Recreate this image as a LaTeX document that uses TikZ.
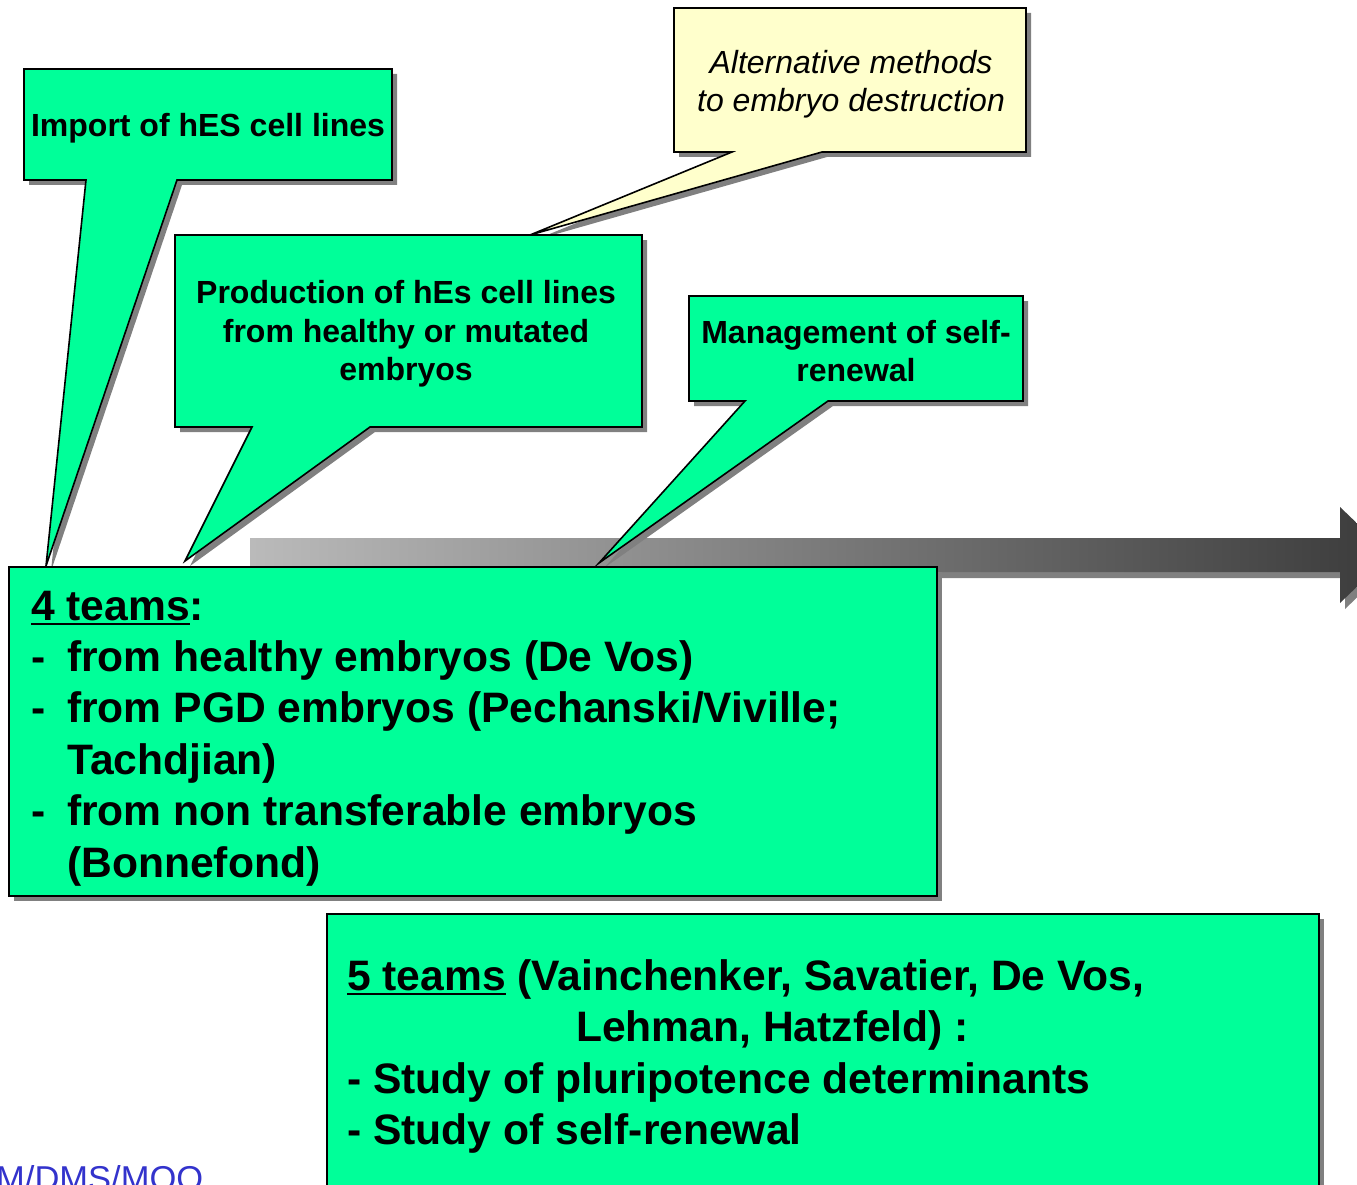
\documentclass[tikz,border=0pt]{standalone}
\usepackage{fontspec}
\setmainfont{Liberation Sans}
\usetikzlibrary{shadows}
\definecolor{sgreen}{HTML}{00FF99}
\definecolor{syellow}{HTML}{FFFFCC}
\definecolor{shad}{HTML}{808080}
\definecolor{sblue}{HTML}{3333CC}
\newcommand\myul[1]{\setbox0\hbox{#1}\rlap{\rule[-5pt]{\wd0}{2.5pt}}\box0\relax}
\tikzset{
  cshadow/.style={drop shadow={shadow xshift=5pt, shadow yshift=-5pt, fill=shad, opacity=1}},
  callout/.style={fill=sgreen, draw=black, line width=1.6pt, line join=miter, cshadow},
  ycallout/.style={fill=syellow, draw=black, line width=1.6pt, line join=miter, cshadow},
  ctext/.style={align=center, inner sep=0pt, font=\bfseries\fontsize{32}{38.4}\selectfont},
  itext/.style={align=center, inner sep=0pt, font=\itshape\fontsize{32}{38.4}\selectfont},
  bigtext/.style={anchor=base west, inner sep=0pt, font=\bfseries\fontsize{42.6}{51}\selectfont},
}
\begin{document}
\begin{tikzpicture}[x=1pt,y=-1pt]
\useasboundingbox (0,0) rectangle (1357,1185);

% timeline arrow
\fill[shad] (254,544) -- (1345,544) -- (1345,513) -- (1395,561) -- (1345,609) -- (1345,578) -- (254,578) -- cycle;
\shade[left color=black!27, right color=black!77] (250,538) -- (1340,538) -- (1340,507) -- (1390,555) -- (1340,603) -- (1340,572) -- (250,572) -- cycle;

% callouts
\path[ycallout] (674,8) -- (1026,8) -- (1026,152) -- (822,152) -- (530,235) -- (732,152) -- (674,152) -- cycle;
\node[itext] (alt) at (851,84) {Alternative methods\\to embryo destruction};

\path[callout] (24,69) -- (392,69) -- (392,180) -- (177,180) -- (46,566) -- (86,180) -- (24,180) -- cycle;
\node[ctext] (imp) at (208,128) {Import of hES cell lines};

\path[callout] (175,235) -- (642,235) -- (642,427) -- (370,427) -- (185,561) -- (252,427) -- (175,427) -- cycle;
\node[ctext] (prod) at (406,334) {Production of hEs cell lines\\from healthy or mutated\\embryos};

\path[callout] (689,296) -- (1023,296) -- (1023,401) -- (828,401) -- (599,563) -- (745,401) -- (689,401) -- cycle;
\node[ctext] (mgmt) at (856,351) {Management of self-\\renewal};

% 4 teams box
\path[callout] (9,567) rectangle (937,896);
\node[bigtext] (a1) at (31,620) {\myul{4 teams}:};
\node[bigtext] (a2) at (31,671) {\makebox[36pt][l]{-}from healthy embryos (De Vos)};
\node[bigtext] (a3) at (31,722) {\makebox[36pt][l]{-}from PGD embryos (Pechanski/Viville;};
\node[bigtext] (a4) at (67,774) {Tachdjian)};
\node[bigtext] (a5) at (31,825) {\makebox[36pt][l]{-}from non transferable embryos};
\node[bigtext] (a6) at (67,877) {(Bonnefond)};

% 5 teams box
\path[callout] (327,914) rectangle (1319,1210);
\node[bigtext] (b1) at (347,990) {\myul{5 teams} (Vainchenker, Savatier, De Vos,};
\node[bigtext] (b2) at (576,1041) {Lehman, Hatzfeld) :};
\node[bigtext] (b3) at (347,1093) {- Study of pluripotence determinants};
\node[bigtext] (b4) at (347,1144) {- Study of self-renewal};

% footer
\node[anchor=base west, inner sep=0pt, text=sblue, font=\fontsize{34.5}{41}\selectfont] (foot) at (-4,1190) {M/DMS/MOO};
\end{tikzpicture}
\end{document}
